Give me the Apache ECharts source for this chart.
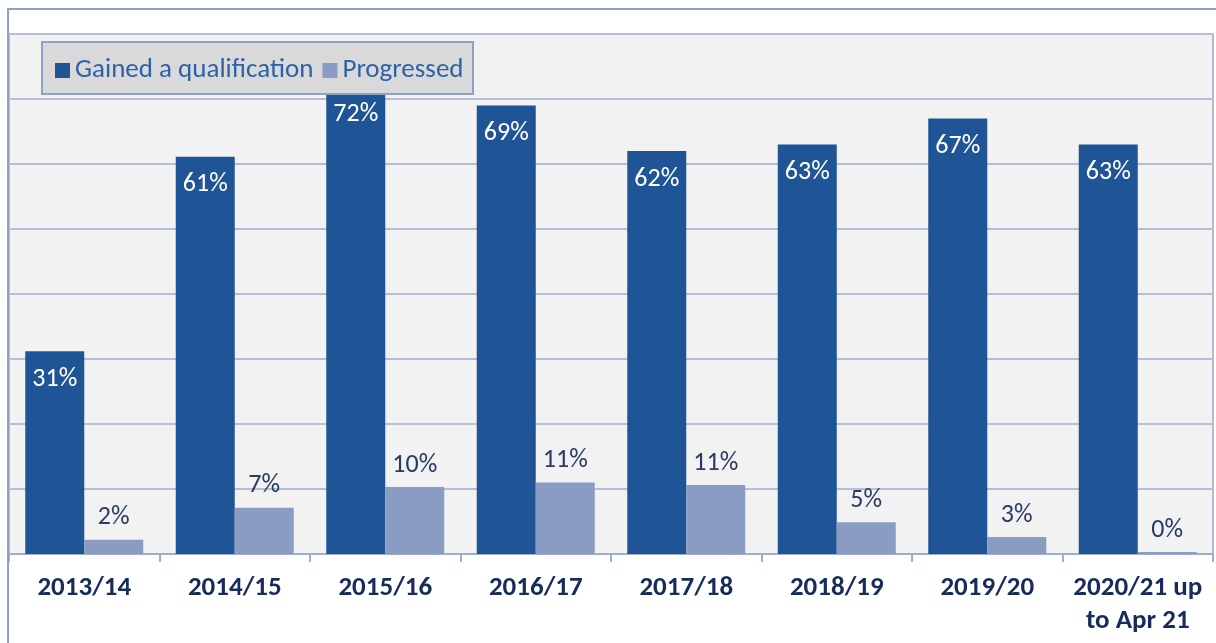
<!DOCTYPE html>
<html>
<head>
<meta charset="utf-8">
<script src="https://cdn.jsdelivr.net/npm/echarts@6/dist/echarts.min.js"></script>
<style>html,body{margin:0;padding:0;background:#fff}#c{width:1216px;height:643px}</style>
</head>
<body>
<div id="c"></div>
<script>
const categories = ['2013/14','2014/15','2015/16','2016/17','2017/18','2018/19','2019/20','2020/21 up\nto Apr 21'];
const gained = [31.2, 61.1, 72.0, 69.0, 62.0, 63.0, 67.0, 63.0];
const progressed = [2.2, 7.1, 10.3, 11.0, 10.6, 4.9, 2.6, 0.3];
const seriesNames = ['Gained a qualification', 'Progressed'];

const FONT = 'Carlito, Lato, sans-serif';
const chart = echarts.init(document.getElementById('c'), null, {renderer: 'canvas'});
chart.setOption({
  animation: false,
  backgroundColor: '#ffffff',
  textStyle: {fontFamily: FONT},
  grid: {left: 9, right: 3, top: 34, bottom: 89, show: true, backgroundColor: '#F2F2F2', borderColor: '#9AA6C2', borderWidth: 1.5},
  legend: {
    left: 50, top: 52, z: 30,
    itemWidth: 15, itemHeight: 15, itemGap: 9,
    icon: 'rect',
    textStyle: {fontFamily: FONT, fontSize: 27, color: '#2E62A8'},
    data: seriesNames
  },
  graphic: [
    {type: 'rect', z: 20, shape: {x: 42, y: 42, width: 431, height: 52}, style: {fill: '#D9D9D9', stroke: '#8EA0C8', lineWidth: 2}},
    {type: 'rect', z: 20, shape: {x: 8, y: 9, width: 1220, height: 700}, style: {fill: null, stroke: '#8EA0C8', lineWidth: 2}}
  ],
  xAxis: {
    type: 'category', data: categories,
    axisLine: {show: true, lineStyle: {color: '#9EAECF', width: 2}},
    axisTick: {show: true, length: 8, lineStyle: {color: '#9EAECF', width: 2}},
    axisLabel: {fontFamily: FONT, fontWeight: 'bold', fontSize: 27, color: '#172B5C', margin: 18, lineHeight: 33, interval: 0}
  },
  yAxis: {
    type: 'value', min: 0, max: 80, interval: 10,
    axisLabel: {show: false}, axisLine: {show: false}, axisTick: {show: false},
    splitLine: {show: true, lineStyle: {color: '#B4BED6', width: 2}}
  },
  series: [
    {name: seriesNames[0], type: 'bar', data: gained, barWidth: 59, barGap: '0%',
     itemStyle: {color: '#1F5496'},
     label: {show: true, position: 'insideTop', distance: 15, fontFamily: FONT, fontSize: 26, color: '#ffffff',
             formatter: p => Math.round(p.value) + '%'}},
    {name: seriesNames[1], type: 'bar', data: progressed, barWidth: 59,
     itemStyle: {color: '#8A9BC4'},
     label: {show: true, position: 'top', distance: 9, fontFamily: FONT, fontSize: 26, color: '#2B3A66',
             formatter: p => Math.round(p.value) + '%'}}
  ]
});
</script>
</body>
</html>
